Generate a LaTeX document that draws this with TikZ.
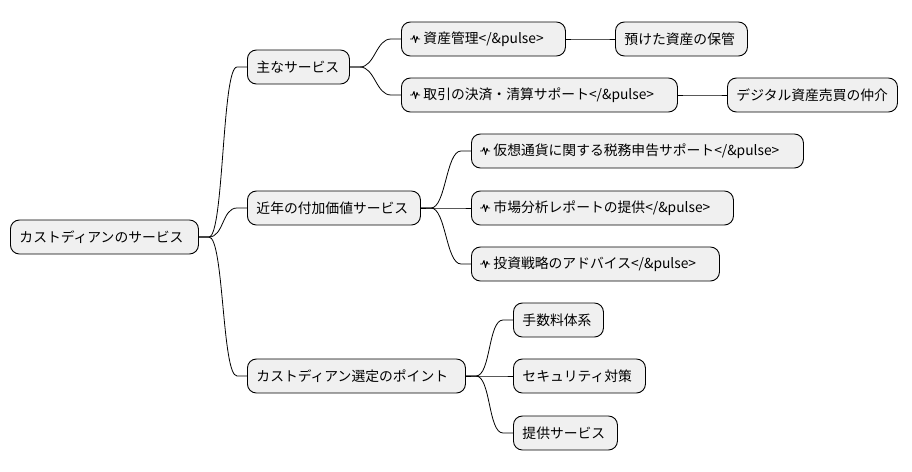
\documentclass[tikz,border=0pt]{standalone}
\usepackage{fontspec}
\setmainfont{Noto Sans CJK JP}
\newcommand\pls{\hspace{13pt}}
\begin{document}
\begin{tikzpicture}[x=1pt,y=-1pt,
  box/.style={draw=black,line width=0.9pt,fill=black!6,rounded corners=9pt,minimum height=34pt,inner xsep=9pt,font=\fontsize{13.8}{16}\selectfont,text=black,align=left},
  w/.style={text width=#1},
  con/.style={line width=0.8pt},
  pulse/.style={line width=0.9pt,line join=round}]
\useasboundingbox (0,0) rectangle (912,471);
\node[box,anchor=west,w=170] (r) at (10,237) {カストディアンのサービス};
\node[box,anchor=west,w=84] (a) at (247,67) {主なサービス};
\node[box,anchor=west,w=155] (b) at (247,208) {近年の付加価値サービス};
\node[box,anchor=west,w=200] (c) at (247,376) {カストディアン選定のポイント};
\node[box,anchor=west,w=146] (a1) at (401,39) {\pls{}資産管理</\&pulse>};
\node[box,anchor=west,w=114] (a1a) at (615,39) {預けた資産の保管};
\node[box,anchor=west,w=258] (a2) at (401,95) {\pls{}取引の決済・清算サポート</\&pulse>};
\node[box,anchor=west,w=152] (a2a) at (727,95) {デジタル資産売買の仲介};
\node[box,anchor=west,w=314] (b1) at (471,151) {\pls{}仮想通貨に関する税務申告サポート</\&pulse>};
\node[box,anchor=west,w=244] (b2) at (471,208) {\pls{}市場分析レポートの提供</\&pulse>};
\node[box,anchor=west,w=230] (b3) at (471,264) {\pls{}投資戦略のアドバイス</\&pulse>};
\node[box,anchor=west,w=72] (c1) at (513,320) {手数料体系};
\node[box,anchor=west,w=114] (c2) at (513,376) {セキュリティ対策};
\node[box,anchor=west,w=86] (c3) at (513,433) {提供サービス};
\foreach \n in {a1,a2,b1,b2,b3}
  \draw[pulse] ([xshift=9pt]\n.west) -- ++(2.5,0) -- ++(1.5,-3.5) -- ++(1.5,7) -- ++(1.5,-6) -- ++(1,2.5) -- ++(2,0);
\foreach \p/\c in {r/a,r/b,r/c,a/a1,a/a2,b/b1,b/b2,b/b3,c/c1,c/c2,c/c3,a1/a1a,a2/a2a}
  \draw[con] (\p.east) -- ++(10,0) .. controls +(15,0) and +(-15,0) .. ([xshift=-10pt]\c.west) -- (\c.west);
\end{tikzpicture}
\end{document}
